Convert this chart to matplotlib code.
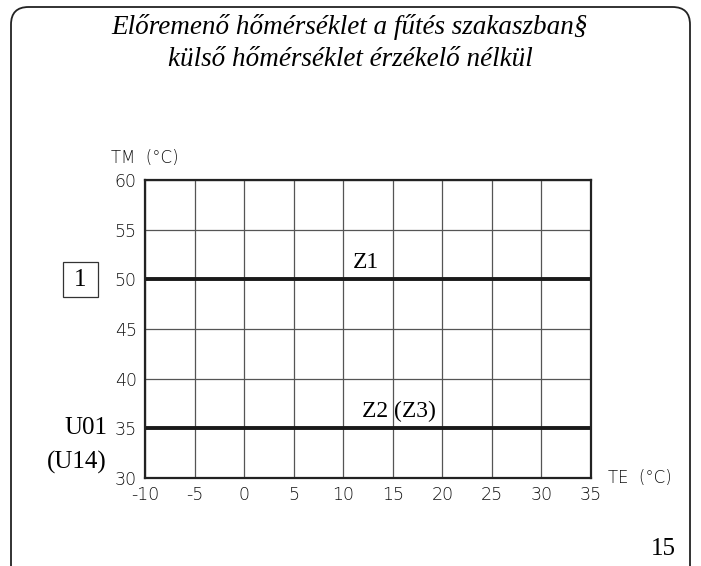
import matplotlib.pyplot as plt
from matplotlib.patches import FancyBboxPatch, Rectangle

te = [-10, 35]
z1 = [50, 50]
z2 = [35, 35]
xticks = [-10, -5, 0, 5, 10, 15, 20, 25, 30, 35]
yticks = [30, 35, 40, 45, 50, 55, 60]

fig = plt.figure(figsize=(7.01, 5.66), dpi=100)

# page frame, open at the bottom
frame = FancyBboxPatch((11 / 701, -0.05), 679 / 701, (566 - 7) / 566 + 0.05,
                       boxstyle='round,pad=0,rounding_size=0.025',
                       transform=fig.transFigure, fill=False,
                       ec='#222222', lw=1.3, mutation_aspect=701 / 566)
fig.patches.append(frame)

ax = fig.add_axes([145 / 701, 88 / 566, 446 / 701, 298 / 566])
ax.set_xlim(-10, 35)
ax.set_ylim(30, 60)
ax.set_xticks(xticks)
ax.set_yticks(yticks)
ax.set_xticklabels([str(t) for t in xticks])
ax.grid(True, color='#555555', lw=0.9)
ax.tick_params(length=0, labelsize=12.5, labelcolor='#111111', pad=6)
for lab in ax.get_xticklabels() + ax.get_yticklabels():
    lab.set_fontweight('light')
for s in ax.spines.values():
    s.set_linewidth(1.6)
    s.set_color('#222222')

ax.plot(te, z1, color='#1a1a1a', lw=2.8, solid_capstyle='butt')
ax.plot(te, z2, color='#1a1a1a', lw=2.8, solid_capstyle='butt')

serif = 'Liberation Serif'
ax.text(12.3, 50.6, 'Z1', family=serif, fontsize=17, ha='center', va='bottom')
ax.text(15.6, 35.6, 'Z2 (Z3)', family=serif, fontsize=17, ha='center', va='bottom')

fig.text(145 / 701, 1 - 158 / 566, 'TM  (°C)', fontsize=12, color='#111111',
         fontweight='light', ha='center', va='center')
fig.text(608 / 701, 1 - 478 / 566, 'TE  (°C)', fontsize=12, color='#111111',
         fontweight='light', ha='left', va='center')

fig.text(350 / 701, 1 - 27 / 566,
         'Előremenő hőmérséklet a fűtés szakaszban§',
         family=serif, style='italic', fontsize=19.5, ha='center', va='center')
fig.text(350 / 701, 1 - 59 / 566,
         'külső hőmérséklet érzékelő nélkül',
         family=serif, style='italic', fontsize=19.5, ha='center', va='center')

box = Rectangle((63 / 701, 1 - 297 / 566), 35 / 701, 35 / 566,
                transform=fig.transFigure, fill=False, ec='#333333', lw=0.9)
fig.patches.append(box)
fig.text(80.5 / 701, 1 - 280 / 566, '1', family=serif, fontsize=18,
         ha='center', va='center')

fig.text(107 / 701, 1 - 428 / 566, 'U01', family=serif, fontsize=18,
         ha='right', va='center')
fig.text(107 / 701, 1 - 462 / 566, '(U14)', family=serif, fontsize=18,
         ha='right', va='center')
fig.text(676 / 701, 1 - 549 / 566, '15', family=serif, fontsize=18,
         ha='right', va='center')

fig.savefig('out.png', dpi=100)
